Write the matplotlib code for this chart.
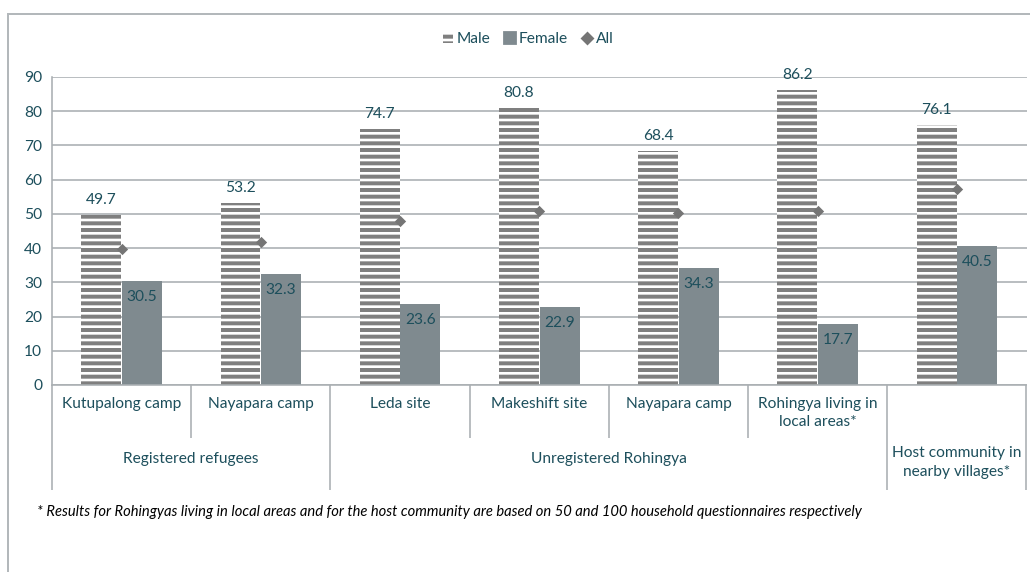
import matplotlib
matplotlib.use("Agg")
import matplotlib.pyplot as plt
from matplotlib.patches import Patch, Rectangle
from matplotlib.lines import Line2D
import matplotlib.transforms as mtransforms

# ---- data ----
categories = ["Kutupalong camp", "Nayapara camp", "Leda site", "Makeshift site",
              "Nayapara camp", "Rohingya living in\nlocal areas*", "Host community in\nnearby villages*"]
groups = ["Registered refugees", "Unregistered Rohingya", "Host community in\nnearby villages*"]
group_spans = [(0, 1), (2, 5), (6, 6)]
male = [49.7, 53.2, 74.7, 80.8, 68.4, 86.2, 76.1]
female = [30.5, 32.3, 23.6, 22.9, 34.3, 17.7, 40.5]
all_vals = [39.7, 41.8, 48.0, 50.8, 50.3, 50.8, 57.3]
yticks = [0, 10, 20, 30, 40, 50, 60, 70, 80, 90]
footnote = "* Results for Rohingyas living in local areas and for the host community are based on 50 and 100 household questionnaires respectively"

DPI = 200
W, H = 1030, 572
def fs(px):  # font size from 100-dpi-equivalent points
    return px * 100 / DPI

plt.rcParams['font.family'] = ['Lato', 'DejaVu Sans']
plt.rcParams['hatch.linewidth'] = 4 * 72 / DPI

TXT = "#1d4f5c"
GRID = "#a9afb2"
FEM = "#7f8a8f"
MALEC = "#7f7f7f"
DIA = "#757575"
FS = 11.2

fig = plt.figure(figsize=(W / DPI, H / DPI), dpi=DPI)
ax = fig.add_axes([52 / W, 1 - 385 / H, (1026.5 - 52) / W, (385 - 77) / H])

n = len(categories)
x = list(range(n))
bw = 0.287
off = 0.146
xm = [i - off for i in x]
xf = [i + off for i in x]

ax.bar(xm, male, width=bw, facecolor="white", edgecolor=MALEC, linewidth=0,
       hatch="-----", zorder=2)
ax.bar(xf, female, width=bw, color=FEM, linewidth=0, zorder=2)
ax.scatter(x, all_vals, marker="D", s=(8 * 72 / DPI) ** 2 * 1.0, color=DIA, zorder=4,
           linewidths=0)

lw_grid = 1.6 * 72 / DPI
ax.set_ylim(0, 90)
ax.set_xlim(-0.5, n - 0.5)
ax.set_yticks(yticks)
ax.yaxis.grid(True, color=GRID, linewidth=lw_grid)
ax.set_axisbelow(True)
ax.tick_params(axis='y', length=0, labelsize=fs(FS), labelcolor=TXT, pad=10 * 72 / DPI)
ax.set_xticks([])
for s in ["top", "right", "bottom"]:
    ax.spines[s].set_visible(False)
ax.spines["left"].set_color(GRID)
ax.spines["left"].set_linewidth(lw_grid)

# data labels
for i in x:
    ax.annotate(f"{male[i]:.1f}", (xm[i], male[i]), xytext=(0, 8 * 72 / DPI),
                textcoords="offset points", ha="center", va="bottom",
                fontsize=fs(FS), color=TXT)
    ax.annotate(f"{female[i]:.1f}", (xf[i], female[i]), xytext=(0, -9 * 72 / DPI),
                textcoords="offset points", ha="center", va="top",
                fontsize=fs(FS), color=TXT)

# category axis
trans = mtransforms.blended_transform_factory(ax.transData, ax.transAxes)
axh = 385 - 77
def ay(py):
    return (385 - py) / axh

for i, c in enumerate(categories[:-1]):
    ax.text(i, ay(397), c, transform=trans, ha="center", va="top",
            fontsize=fs(FS), color=TXT, linespacing=1.35)
long_div = [-0.5, 1.5, 5.5, 6.5]
short_div = [0.5, 2.5, 3.5, 4.5]
for d in long_div:
    ax.plot([d, d], [0, ay(490)], transform=trans, color=GRID, lw=lw_grid,
            clip_on=False, solid_capstyle="butt")
for d in short_div:
    ax.plot([d, d], [0, ay(438)], transform=trans, color=GRID, lw=lw_grid,
            clip_on=False, solid_capstyle="butt")
ax.plot([-0.5, n - 0.5], [0, 0], transform=trans, color=GRID, lw=lw_grid,
        clip_on=False, zorder=5)

for g, (a, b) in zip(groups, group_spans):
    cx = (a + b) / 2
    if "\n" in g:
        ax.text(cx, ay(462.5), g, transform=trans, ha="center", va="center",
                fontsize=fs(FS), color=TXT, linespacing=1.4)
    else:
        ax.text(cx, ay(459), g, transform=trans, ha="center", va="center",
                fontsize=fs(FS), color=TXT)

# legend
handles = [Patch(facecolor="white", edgecolor=MALEC, linewidth=0, hatch="-----"),
           Patch(facecolor=FEM, edgecolor=FEM),
           Line2D([], [], marker="D", color=DIA, linestyle="none",
                  markersize=7 * 72 / DPI)]
fig.legend(handles, ["Male", "Female", "All"], loc="center",
           bbox_to_anchor=(528 / W, 1 - 39 / H), ncol=3, frameon=False,
           fontsize=fs(FS), labelcolor=TXT, handlelength=0.65, handleheight=0.65,
           handletextpad=0.25, columnspacing=0.9)

# footnote
fig.text(37 / W, 1 - 512 / H, footnote, ha="left", va="center", fontsize=fs(10.6),
         style="italic", color="black")

# outer border (cropped at right/bottom)
fig.patches.append(Rectangle((8 / W, -0.05), 1.2, 1 - 14 / H + 0.05,
                             transform=fig.transFigure, fill=False,
                             edgecolor="#b3b8bb", linewidth=2 * 72 / DPI))

fig.savefig("out.png", dpi=DPI)
